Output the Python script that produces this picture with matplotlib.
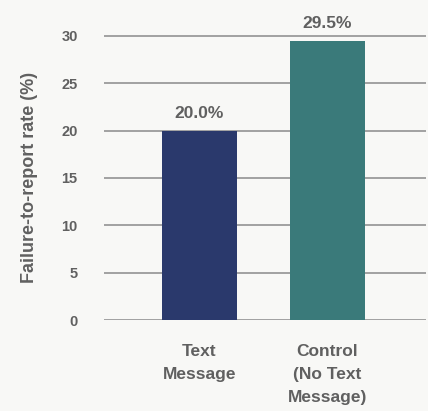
import matplotlib.pyplot as plt

categories = ["Text\nMessage", "Control\n(No Text\nMessage)"]
rates = [20.0, 29.5]
value_labels = ["20.0%", "29.5%"]
yticks = [0, 5, 10, 15, 20, 25, 30]

bg = "#f8f8f6"
text_col = "#606060"
bar_colors = ["#2a396c", "#3a7a7a"]

plt.rcParams["font.family"] = ["Liberation Sans", "DejaVu Sans"]
plt.rcParams["font.weight"] = "bold"

fig = plt.figure(figsize=(4.28, 4.11), dpi=100, facecolor=bg)
# axes: left 104px, right 426px, y=0 at 320px, y=32 at ~17px
ax = fig.add_axes([104 / 428, (411 - 320) / 411, 322 / 428, 303 / 411], facecolor=bg)

x = range(len(categories))
ax.bar(x, rates, width=0.586, color=bar_colors, zorder=3)
for i, (v, lab) in enumerate(zip(rates, value_labels)):
    ax.text(i, v + 1.0, lab, ha="center", va="bottom", fontsize=12.5,
            fontweight="bold", color=text_col)

ax.set_xlim(-0.746, 1.77)
ax.set_ylim(0, 32)
ax.set_yticks(yticks)
for t in yticks:
    ax.axhline(t, color="#8a8a8a", lw=1.1, zorder=1)

ax.set_xticks(list(x))
ax.set_xticklabels(categories, fontsize=12.5, fontweight="bold", color=text_col,
                   linespacing=1.7)
ax.tick_params(axis="x", length=0, pad=17)
ax.tick_params(axis="y", length=0, pad=19, labelsize=10.5, labelcolor=text_col)
for lab in ax.get_yticklabels():
    lab.set_fontweight("bold")

ax.set_ylabel("Failure-to-report rate (%)", fontsize=13, fontweight="bold",
              color=text_col)
ax.yaxis.set_label_coords(-0.205, 0.469)
for s in ax.spines.values():
    s.set_visible(False)

fig.savefig("out.png", dpi=100, facecolor=bg)
